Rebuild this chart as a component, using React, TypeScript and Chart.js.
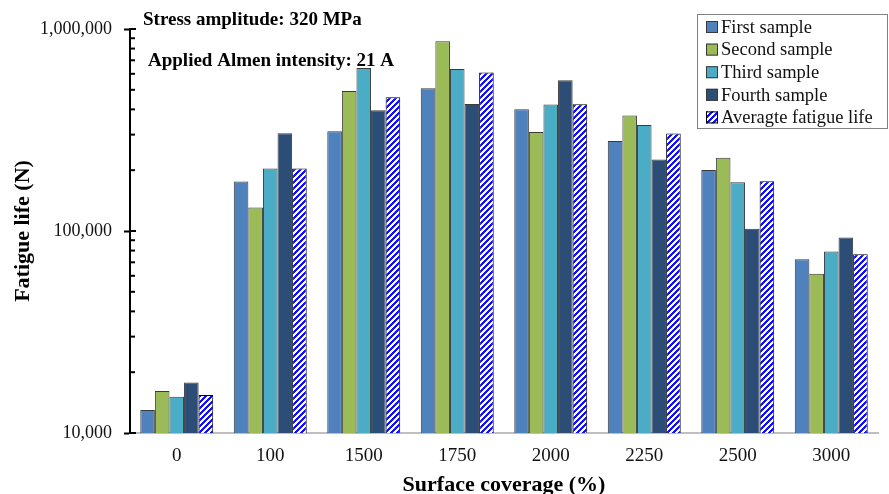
import React, { useEffect, useRef } from "react";
import { Chart, registerables } from "chart.js";

Chart.register(...registerables);

const categories = ["0", "100", "1500", "1750", "2000", "2250", "2500", "3000"];
const firstSample = [13000, 176000, 311700, 509600, 401000, 279000, 200300, 72400];
const secondSample = [16150, 130900, 492600, 868800, 309400, 373000, 230800, 61500];
const thirdSample = [15130, 204000, 640500, 633000, 423000, 335000, 174100, 79100];
const fourthSample = [17760, 304800, 396000, 425800, 558000, 226000, 102500, 92800];
const averageLife = [15430, 204000, 459800, 609600, 424000, 303600, 176100, 76700];
const seriesNames = ["First sample", "Second sample", "Third sample", "Fourth sample", "Averagte fatigue life"];
const yMajorTicks = [10000, 100000, 1000000];
const annotations = ["Stress amplitude: 320 MPa", "Applied Almen intensity: 21 A"];

const SERIF = "'Liberation Serif', 'Times New Roman', serif";

function makeHatch(): CanvasPattern | string {
  const n = 6;
  const c = document.createElement("canvas");
  c.width = n;
  c.height = n;
  const g = c.getContext("2d");
  if (!g) return "#0000ff";
  g.fillStyle = "#ffffff";
  g.fillRect(0, 0, n, n);
  g.fillStyle = "#1010ff";
  for (let x = 0; x < n; x++) {
    for (let y = 0; y < n; y++) {
      if ((x + y) % n < 3) g.fillRect(x, y, 1, 1);
    }
  }
  const p = g.createPattern(c, "repeat");
  return p || "#0000ff";
}

export default function App() {
  const ref = useRef<HTMLCanvasElement>(null);

  useEffect(() => {
    if (!ref.current) return;
    const hatch = makeHatch();

    const isMajor = (v: number) => yMajorTicks.includes(v);

    const decorPlugin = {
      id: "decor",
      afterDraw(chart: any) {
        const ctx = chart.ctx;
        const y = chart.scales.y;
        const ax = chart.chartArea.left;
        ctx.save();
        // inner tick marks
        ctx.strokeStyle = "#000";
        ctx.lineWidth = 2;
        y.ticks.forEach((t: any) => {
          const py = y.getPixelForValue(t.value);
          ctx.beginPath();
          ctx.moveTo(ax, py);
          ctx.lineTo(ax + (isMajor(t.value) ? 6 : 5), py);
          ctx.stroke();
        });
        // annotations
        ctx.fillStyle = "#000";
        ctx.textBaseline = "middle";
        ctx.textAlign = "left";
        ctx.font = `bold 19px ${SERIF}`;
        ctx.fillText(annotations[0], 143, 20);
        ctx.fillText(annotations[1], 148, 61);
        // legend
        const lx = 697, ly = 14, lw = 190, lh = 114;
        ctx.fillStyle = "#fff";
        ctx.fillRect(lx, ly, lw, lh);
        ctx.strokeStyle = "#808080";
        ctx.lineWidth = 1;
        ctx.strokeRect(lx + 0.5, ly + 0.5, lw, lh);
        ctx.font = `18.5px ${SERIF}`;
        chart.data.datasets.forEach((ds: any, i: number) => {
          const cy = 27 + i * 22.6;
          ctx.fillStyle = ds.backgroundColor;
          ctx.fillRect(706, cy - 6, 12, 12);
          ctx.strokeStyle = ds.borderColor;
          ctx.lineWidth = 1;
          ctx.strokeRect(706.5, cy - 5.5, 11, 11);
          ctx.fillStyle = "#111";
          ctx.fillText(ds.label, 721, cy + 1);
        });
        ctx.restore();
      },
    };

    const mk = (label: string, data: number[], bg: any, border: string) => ({
      label,
      data,
      backgroundColor: bg,
      borderColor: border,
      borderWidth: 1,
    });

    const chart = new Chart(ref.current, {
      type: "bar",
      data: {
        labels: categories,
        datasets: [
          mk(seriesNames[0], firstSample, "#4F81BD", "#3a3a3a"),
          mk(seriesNames[1], secondSample, "#9BBB59", "#3a3a3a"),
          mk(seriesNames[2], thirdSample, "#4BACC6", "#3a3a3a"),
          mk(seriesNames[3], fourthSample, "#2C4D75", "#3a3a3a"),
          mk(seriesNames[4], averageLife, hatch, "#000000"),
        ],
      },
      options: {
        responsive: false,
        animation: false,
        layout: { padding: { left: 0, right: 11, top: 29, bottom: 0 } },
        datasets: { bar: { categoryPercentage: 0.78, barPercentage: 1 } },
        plugins: {
          legend: { display: false },
          tooltip: { enabled: false },
        },
        scales: {
          x: {
            grid: { display: false, drawTicks: false },
            border: { display: true, color: "#BFBFBF", width: 2 },
            ticks: { color: "#111", padding: 12, font: { family: SERIF, size: 19 } },
            title: {
              display: true,
              text: "Surface coverage (%)",
              color: "#000",
              font: { family: SERIF, size: 22, weight: "bold", lineHeight: 1 },
              padding: { top: 0, bottom: -2 },
            },
            afterFit: (s: any) => {
              s.height = 61;
            },
          },
          y: {
            type: "logarithmic",
            min: 10000,
            max: 1000000,
            afterBuildTicks: (s: any) => {
              const ticks: any[] = [];
              for (let d = 0; d < yMajorTicks.length; d++) {
                const base = yMajorTicks[d];
                ticks.push({ value: base, major: true });
                if (d < yMajorTicks.length - 1) {
                  for (let m = 2; m <= 9; m++) ticks.push({ value: base * m, major: false });
                }
              }
              s.ticks = ticks;
            },
            grid: {
              display: true,
              drawOnChartArea: false,
              drawTicks: true,
              tickLength: 6,
              tickWidth: 2,
              tickColor: (c: any) => (c.tick && isMajor(c.tick.value) ? "#000" : "rgba(0,0,0,0)"),
            },
            border: { display: true, color: "#000", width: 2 },
            ticks: {
              autoSkip: false,
              color: "#111",
              padding: 12,
              font: { family: SERIF, size: 18 },
              callback: (v: any) => (isMajor(Number(v)) ? Number(v).toLocaleString("en-US") : ""),
            },
            title: {
              display: true,
              text: "Fatigue life (N)",
              color: "#000",
              font: { family: SERIF, size: 22, weight: "bold", lineHeight: 1 },
              padding: { top: 12, bottom: 0 },
            },
            afterFit: (s: any) => {
              s.width = 130;
            },
          },
        },
      },
      plugins: [decorPlugin],
    } as any);

    return () => chart.destroy();
  }, []);

  return (
    <div style={{ position: "absolute", left: 0, top: 0, width: 889, height: 494, background: "#fff" }}>
      <canvas ref={ref} width={889} height={494} style={{ display: "block" }} />
    </div>
  );
}
